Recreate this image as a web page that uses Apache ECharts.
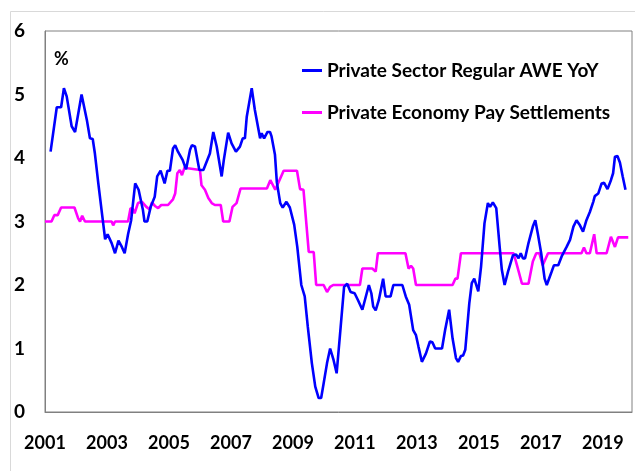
<!DOCTYPE html>
<html>
<head>
<meta charset="utf-8">
<script src="https://cdn.jsdelivr.net/npm/echarts@6/dist/echarts.min.js"></script>
<style>
  html, body { margin: 0; padding: 0; background: #fff; }
  #chart { width: 635px; height: 471px; }
</style>
</head>
<body>
<div id="chart"></div>
<script>
// decimal years
var aweDates = [2001.18,2001.38,2001.52,2001.61,2001.70,2001.86,2001.97,2002.03,2002.18,2002.35,2002.45,2002.54,2002.61,2002.72,2002.85,2002.94,2003.02,2003.15,2003.26,2003.37,2003.48,2003.57,2003.68,2003.78,2003.91,2004.02,2004.16,2004.21,2004.30,2004.41,2004.54,2004.62,2004.73,2004.86,2004.95,2005.03,2005.13,2005.20,2005.29,2005.44,2005.55,2005.68,2005.74,2005.84,2005.98,2006.11,2006.32,2006.43,2006.54,2006.70,2006.77,2006.91,2007.02,2007.16,2007.20,2007.29,2007.38,2007.45,2007.51,2007.67,2007.77,2007.94,2007.99,2008.07,2008.18,2008.26,2008.31,2008.42,2008.48,2008.59,2008.67,2008.79,2008.90,2009.04,2009.14,2009.27,2009.38,2009.48,2009.61,2009.72,2009.83,2009.91,2009.99,2010.10,2010.20,2010.31,2010.41,2010.54,2010.65,2010.75,2010.86,2010.99,2011.10,2011.24,2011.31,2011.45,2011.53,2011.59,2011.67,2011.77,2011.91,2011.99,2012.15,2012.24,2012.53,2012.64,2012.75,2012.88,2012.97,2013.05,2013.16,2013.29,2013.42,2013.50,2013.59,2013.81,2013.91,2014.04,2014.15,2014.26,2014.33,2014.42,2014.49,2014.56,2014.69,2014.77,2014.85,2014.98,2015.07,2015.18,2015.29,2015.36,2015.45,2015.56,2015.67,2015.74,2015.83,2015.94,2016.10,2016.20,2016.28,2016.35,2016.42,2016.49,2016.60,2016.74,2016.82,2016.90,2017.01,2017.12,2017.19,2017.25,2017.34,2017.42,2017.56,2017.67,2017.83,2017.94,2018.05,2018.15,2018.26,2018.36,2018.47,2018.58,2018.69,2018.74,2018.85,2018.96,2019.04,2019.15,2019.26,2019.33,2019.39,2019.47,2019.55,2019.64,2019.73];
var aweValues = [4.1,4.8,4.8,5.1,4.97,4.5,4.41,4.41,5.0,4.6,4.31,4.3,4.07,3.6,3.08,2.72,2.8,2.66,2.5,2.7,2.6,2.5,2.8,3.02,3.6,3.5,3.18,3.0,3.0,3.23,3.39,3.71,3.8,3.6,3.8,3.8,4.15,4.2,4.1,3.97,3.82,4.13,4.2,4.18,3.81,3.81,4.07,4.41,4.18,3.71,3.97,4.4,4.23,4.1,4.1,4.18,4.31,4.31,4.65,5.1,4.76,4.31,4.39,4.31,4.41,4.41,4.34,4.05,3.62,3.29,3.22,3.31,3.22,2.95,2.6,2.0,1.82,1.34,0.77,0.4,0.22,0.22,0.45,0.77,1.0,0.82,0.61,1.34,1.97,2.02,1.89,1.87,1.76,1.61,1.74,2.0,1.87,1.66,1.6,1.76,2.1,1.82,1.82,2.0,2.0,1.82,1.69,1.29,1.21,1.03,0.79,0.92,1.11,1.1,1.0,1.0,1.29,1.61,1.16,0.85,0.79,0.88,0.89,0.98,1.71,2.03,2.1,1.9,2.29,2.97,3.29,3.23,3.3,3.21,2.6,2.24,2.0,2.21,2.47,2.48,2.42,2.5,2.42,2.42,2.66,2.92,3.02,2.81,2.5,2.1,2.0,2.0,2.2,2.31,2.31,2.45,2.6,2.71,2.92,3.02,2.94,2.84,3.02,3.15,3.31,3.4,3.44,3.6,3.61,3.51,3.65,3.76,4.02,4.03,3.93,3.71,3.5];

var payDates = [2001.0,2001.21,2001.30,2001.41,2001.52,2001.95,2002.07,2002.13,2002.20,2002.29,2003.15,2003.20,2003.26,2003.68,2003.76,2003.83,2003.89,2004.0,2004.13,2004.27,2004.38,2004.45,2004.56,2004.65,2004.75,2004.97,2005.13,2005.20,2005.27,2005.35,2005.42,2005.51,2005.61,2006.0,2006.05,2006.16,2006.27,2006.38,2006.48,2006.67,2006.75,2006.95,2007.05,2007.18,2007.31,2008.16,2008.27,2008.43,2008.70,2009.13,2009.23,2009.34,2009.51,2009.67,2009.75,2009.99,2010.10,2010.20,2010.30,2011.16,2011.24,2011.56,2011.67,2011.74,2012.63,2012.73,2012.81,2012.88,2012.97,2014.15,2014.24,2014.31,2014.42,2016.12,2016.23,2016.39,2016.60,2016.74,2016.85,2016.95,2017.06,2017.23,2018.31,2018.39,2018.47,2018.58,2018.72,2018.80,2019.12,2019.26,2019.39,2019.49,2019.82];
var payValues = [3.0,3.0,3.1,3.1,3.22,3.22,3.05,3.0,3.09,3.0,3.0,2.94,3.0,3.0,3.21,3.2,3.13,3.29,3.31,3.23,3.19,3.3,3.24,3.21,3.26,3.26,3.35,3.44,3.76,3.81,3.73,3.86,3.84,3.81,3.57,3.5,3.37,3.29,3.26,3.26,3.0,3.0,3.23,3.29,3.52,3.52,3.65,3.5,3.8,3.8,3.51,3.5,2.52,2.52,2.0,2.0,1.89,1.97,2.0,2.0,2.26,2.26,2.21,2.5,2.5,2.26,2.3,2.26,2.0,2.0,2.1,2.1,2.5,2.5,2.31,2.02,2.02,2.37,2.5,2.5,2.31,2.5,2.5,2.59,2.5,2.5,2.8,2.5,2.5,2.76,2.6,2.75,2.75];

var seriesNames = ['Private Sector Regular AWE YoY', 'Private Economy Pay Settlements'];

function zip(xs, ys) {
    var out = [];
    for (var i = 0; i < xs.length; i++) out.push([xs[i], ys[i]]);
    return out;
}

var chart = echarts.init(document.getElementById('chart'));
var font = 'Lato, "Open Sans", sans-serif';

var option = {
    backgroundColor: '#fff',
    animation: false,
    textStyle: { fontFamily: font },
    graphic: [{
        type: 'rect',
        shape: { x: 10.5, y: 11.5, width: 640, height: 470 },
        style: { fill: 'none', stroke: '#d9d9d9', lineWidth: 1 },
        silent: true
    }],
    title: {
        text: '%',
        left: 49,
        top: 45,
        textStyle: { fontFamily: font, fontSize: 18, fontWeight: 'bold', color: '#000' }
    },
    legend: {
        orient: 'vertical',
        left: 297,
        top: 55,
        itemWidth: 20,
        itemHeight: 3,
        itemGap: 21,
        icon: 'rect',
        data: seriesNames,
        textStyle: { fontFamily: font, fontSize: 19, fontWeight: 'bold', color: '#000', lineHeight: 21 }
    },
    grid: {
        left: 45, top: 31, right: 3, bottom: 59,
        show: true,
        borderColor: '#808080',
        borderWidth: 1
    },
    xAxis: {
        type: 'value',
        min: 2001,
        max: 2019.94,
        interval: 1,
        axisLine: { show: true, lineStyle: { color: '#808080' } },
        axisTick: { show: false },
        splitLine: { show: false },
        axisLabel: {
            interval: 0,
            margin: 22,
            showMaxLabel: false,
            fontFamily: font, fontSize: 18, fontWeight: 'bold', color: '#000',
            formatter: function (v) { return (v % 2 === 1) ? String(v) : ''; }
        }
    },
    yAxis: {
        type: 'value',
        min: 0,
        max: 6,
        interval: 1,
        axisLine: { show: true, lineStyle: { color: '#808080' } },
        axisTick: { show: false },
        splitLine: { show: false },
        axisLabel: { margin: 20, fontFamily: font, fontSize: 19, fontWeight: 'bold', color: '#000' }
    },
    series: [
        {
            name: seriesNames[0],
            type: 'line',
            data: zip(aweDates, aweValues),
            showSymbol: false,
            symbol: 'none',
            color: '#0000ff',
            lineStyle: { width: 2.6, color: '#0000ff' },
            z: 3
        },
        {
            name: seriesNames[1],
            type: 'line',
            data: zip(payDates, payValues),
            showSymbol: false,
            symbol: 'none',
            color: '#ff00ff',
            lineStyle: { width: 2.6, color: '#ff00ff' },
            z: 2
        }
    ]
};

chart.setOption(option);
</script>
</body>
</html>
